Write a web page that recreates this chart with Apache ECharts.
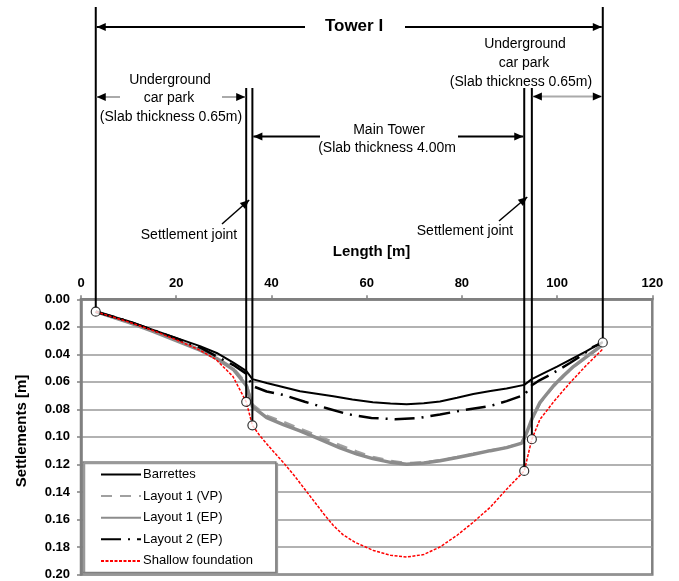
<!DOCTYPE html>
<html><head><meta charset="utf-8">
<script src="https://cdn.jsdelivr.net/npm/echarts@6/dist/echarts.min.js"></script>
<style>html,body{margin:0;padding:0;background:#fff}#c{width:679px;height:581px}</style>
</head><body><div id="c"></div>
<script>
// ---- data ----
const xTickLabels = ['0','20','40','60','80','100','120'];
const yTickLabels = ['0.00','0.02','0.04','0.06','0.08','0.10','0.12','0.14','0.16','0.18','0.20'];
const seriesNames = ['Barrettes','Layout 1 (VP)','Layout 1 (EP)','Layout 2 (EP)','Shallow foundation'];

const barrettes = [[3.1,0.009],[10,0.016],[15,0.022],[20,0.028],[25,0.034],[28.5,0.039],[32,0.046],[34.7,0.052],[36.0,0.058],[39,0.0608],[46,0.0668],[53,0.0704],[57,0.0728],[61.3,0.0748],[65,0.0758],[68.4,0.0762],[72,0.0756],[75.4,0.0742],[79,0.0716],[82.4,0.0688],[86,0.0666],[89.4,0.0649],[93.1,0.0622],[94.7,0.058],[97,0.054],[100,0.049],[103,0.0435],[106,0.038],[109.6,0.031]];
const layout1VP = [[3.1,0.009],[10,0.0165],[15,0.023],[20,0.0298],[25,0.0365],[28.5,0.0425],[32,0.050],[34.7,0.061],[36.0,0.0765],[39,0.0845],[42.5,0.089],[46,0.094],[50,0.0995],[54.4,0.106],[58,0.1108],[61.3,0.1145],[65,0.1175],[68.4,0.119],[72,0.1185],[75.4,0.117],[79,0.1148],[82.4,0.1124],[86,0.1098],[89.4,0.1076],[92.6,0.1045],[93.6,0.0975],[94.7,0.0875],[96.4,0.0755],[99.2,0.0635],[101.5,0.0555],[103.5,0.049],[106.5,0.0412],[109.4,0.0337]];
const layout1EP = [[3.1,0.009],[10,0.0167],[15,0.0232],[20,0.030],[25,0.037],[28.5,0.043],[32,0.051],[34.7,0.0625],[36.0,0.078],[39,0.086],[42.5,0.091],[46,0.0957],[50,0.1015],[54.4,0.108],[58,0.1125],[61.3,0.1158],[65,0.1185],[68.4,0.1198],[72,0.119],[75.4,0.1174],[79,0.115],[82.4,0.1126],[86,0.110],[89.4,0.1078],[92.6,0.1045],[93.6,0.097],[94.7,0.087],[96.4,0.075],[99.2,0.063],[101.5,0.055],[103.5,0.0487],[106.5,0.041],[109.4,0.0335]];
const layout2EP = [[3.1,0.009],[10,0.016],[15,0.0222],[20,0.0285],[25,0.035],[28.5,0.0415],[32,0.0478],[34.7,0.054],[36.0,0.063],[39,0.067],[42.5,0.0695],[47,0.0745],[52,0.0795],[56,0.0835],[61,0.0862],[66,0.0872],[71,0.0862],[75.4,0.0837],[80,0.0808],[86,0.0775],[89.4,0.074],[93.1,0.0695],[94.7,0.0625],[96,0.0595],[98.5,0.055],[102.7,0.0463],[105.5,0.040],[107.6,0.0345],[109.5,0.0315]];
const shallow = [[3.1,0.009],[10,0.0165],[15,0.0225],[20,0.0294],[25,0.037],[28.4,0.0439],[31.9,0.056],[34.7,0.0745],[36.0,0.0916],[37.6,0.0993],[40,0.109],[42.5,0.1186],[45,0.129],[48,0.1425],[51,0.156],[53,0.1644],[55,0.171],[57.5,0.1765],[61.4,0.1825],[65,0.186],[68.4,0.1873],[72,0.1855],[75.4,0.180],[79,0.1715],[82.4,0.162],[86,0.151],[89.4,0.138],[93.1,0.1247],[94.7,0.1017],[96.4,0.0873],[99.5,0.0735],[102.7,0.0607],[106,0.0485],[109.5,0.0365]];
const jointMarkers = [[3.1,0.009],[34.7,0.0745],[36.0,0.0916],[93.1,0.1247],[94.7,0.1017],[109.6,0.0314]];

// annotation anchors (Length [m])
const towerEnds = [3.1, 109.6];
const jointLines = [34.7, 36.0, 93.1, 94.7];

const FONT = "'Liberation Sans', Arial, sans-serif";
const chart = echarts.init(document.getElementById('c'));

const option = {
  animation: false,
  backgroundColor: '#fff',
  grid: { left: 81, right: 26.7, top: 299.3, bottom: 5, show: true, borderColor: '#808080', borderWidth: 2.5, backgroundColor: '#fff' },
  xAxis: {
    type: 'value', position: 'top', min: 0, max: 120, interval: 20,
    axisLine: { show: true, lineStyle: { color: '#808080', width: 2.5 } },
    axisTick: { show: true, length: 4, lineStyle: { color: '#808080', width: 1.5 } },
    axisLabel: { margin: 9, color: '#000', fontFamily: FONT, fontSize: 13, fontWeight: 'bold',
      formatter: (v) => xTickLabels[Math.round(v / 20)] },
    splitLine: { show: false }
  },
  yAxis: {
    type: 'value', inverse: true, min: 0, max: 0.2, interval: 0.02,
    axisLine: { show: true, lineStyle: { color: '#808080', width: 2.5 } },
    axisTick: { show: true, length: 4, lineStyle: { color: '#808080', width: 1.5 } },
    axisLabel: { margin: 11, color: '#000', fontFamily: FONT, fontSize: 13, fontWeight: 'bold',
      formatter: (v) => yTickLabels[Math.round(v / 0.02)] },
    splitLine: { show: true, lineStyle: { color: '#999', width: 1.5 } }
  },
  legend: {
    show: true, orient: 'vertical', left: 83, top: 462,
    data: seriesNames,
    itemWidth: 40, itemHeight: 14, itemGap: 8.6,
    padding: [6, 23, 5, 17],
    backgroundColor: '#fff', borderColor: '#808080', borderWidth: 1.5,
    shadowColor: '#999', shadowOffsetX: 1.5, shadowOffsetY: 1.5, shadowBlur: 0,
    itemStyle: { opacity: 0 },
    textStyle: { fontFamily: FONT, fontSize: 13, color: '#000', padding: [0,0,0,-3] },
    z: 20
  },
  series: [
    { name: seriesNames[0], type: 'line', data: barrettes, symbol: 'none', z: 4,
      lineStyle: { color: '#000', width: 2 }, itemStyle: { color: '#000' } },
    { name: seriesNames[1], type: 'line', data: layout1VP, symbol: 'none', z: 3,
      lineStyle: { color: '#a0a0a0', width: 2.5, type: [11, 8] }, itemStyle: { color: '#a0a0a0' } },
    { name: seriesNames[2], type: 'line', data: layout1EP, symbol: 'none', z: 3,
      lineStyle: { color: '#8c8c8c', width: 3.5 }, itemStyle: { color: '#8c8c8c' } },
    { name: seriesNames[3], type: 'line', data: layout2EP, symbol: 'none', z: 4,
      lineStyle: { color: '#000', width: 2.5, type: [20, 7, 2, 7] }, itemStyle: { color: '#000' } },
    { name: seriesNames[4], type: 'line', data: shallow, symbol: 'none', z: 5,
      lineStyle: { color: '#ff0000', width: 1.5, type: [3, 1.5] }, itemStyle: { color: '#ff0000' } },
    { name: 'joints', type: 'scatter', data: jointMarkers, symbol: 'circle', symbolSize: 9, z: 10,
      itemStyle: { color: '#fff', borderColor: '#000', borderWidth: 1.2 } }
  ]
};
chart.setOption(option);

// ---- annotations built from axis conversion ----
const X = (v) => chart.convertToPixel({ xAxisIndex: 0 }, v);
const P = (pt) => chart.convertToPixel({ gridIndex: 0 }, pt);
const g = [];
function line(x1, y1, x2, y2, stroke, w) {
  g.push({ type: 'line', z: 50, shape: { x1, y1, x2, y2 }, style: { stroke: stroke || '#000', lineWidth: w || 2 } });
}
function head(tx, ty, fx, fy) { // tip at (tx,ty), pointing away from (fx,fy)
  const dx = tx - fx, dy = ty - fy, L = Math.hypot(dx, dy), ux = dx / L, uy = dy / L;
  const len = 9, hw = 4;
  const bx = tx - ux * len, by = ty - uy * len;
  g.push({ type: 'polygon', z: 51, shape: { points: [[tx, ty], [bx - uy * hw, by + ux * hw], [bx + uy * hw, by - ux * hw]] }, style: { fill: '#000' } });
}
function text(str, x, y, opts) {
  opts = opts || {};
  g.push({ type: 'text', z: 52, x, y, style: { text: str, fill: '#000', font: (opts.bold ? 'bold ' : '') + (opts.size || 14) + 'px ' + FONT,
    textAlign: 'center', textVerticalAlign: 'middle' }, rotation: opts.rot || 0 });
}

// vertical boundary lines down to the marker circles
const rad = 4.5;
[towerEnds[0], towerEnds[1]].forEach((xv, i) => {
  const m = jointMarkers[i === 0 ? 0 : 5];
  const p = P(m);
  line(X(xv), 7, X(xv), p[1] - rad, '#000', 2);
});
jointLines.forEach((xv, i) => {
  const p = P(jointMarkers[i + 1]);
  line(X(xv), 88, X(xv), p[1] - rad, '#000', 2);
});

// Tower I
const yT = 27;
line(X(towerEnds[0]) + 1, yT, 305, yT); head(X(towerEnds[0]) + 1, yT, 305, yT);
line(405, yT, X(towerEnds[1]) - 1, yT); head(X(towerEnds[1]) - 1, yT, 405, yT);
text('Tower I', 354, 26, { bold: true, size: 17 });

// left car park
const yL = 97;
line(X(towerEnds[0]) + 1, yL, 120, yL, '#aaa', 2); head(X(towerEnds[0]) + 1, yL, 120, yL);
line(222, yL, X(jointLines[0]) - 1, yL, '#aaa', 2); head(X(jointLines[0]) - 1, yL, 222, yL);
text('Underground', 170, 80); text('car park', 169, 98); text('(Slab thickness 0.65m)', 171, 117);

// right car park
const yR = 96.5;
line(X(jointLines[3]) + 1, yR, X(towerEnds[1]) - 1, yR, '#aaa', 2);
head(X(jointLines[3]) + 1, yR, X(towerEnds[1]), yR); head(X(towerEnds[1]) - 1, yR, X(jointLines[3]), yR);
text('Underground', 525, 44); text('car park', 524, 63); text('(Slab thickness 0.65m)', 521, 82);

// Main tower
const yM = 136.5;
line(320, yM, X(jointLines[1]) + 1, yM); head(X(jointLines[1]) + 1, yM, 320, yM);
line(458, yM, X(jointLines[2]) - 1, yM); head(X(jointLines[2]) - 1, yM, 458, yM);
text('Main Tower', 389, 130); text('(Slab thickness 4.00m', 387, 148);

// settlement joints
line(222, 224, X(jointLines[0]) + 3, 200, '#000', 1.5); head(X(jointLines[0]) + 3, 200, 222, 224);
text('Settlement joint', 189, 235);
line(499, 221, X(jointLines[2]) + 3, 197, '#000', 1.5); head(X(jointLines[2]) + 3, 197, 499, 221);
text('Settlement joint', 465, 231);

// axis titles
text('Length [m]', 371.5, 252, { bold: true, size: 15 });
text('Settlements [m]', 22, 431, { bold: true, size: 15, rot: Math.PI / 2 });

chart.setOption({ graphic: { elements: g } });
</script>
</body></html>
